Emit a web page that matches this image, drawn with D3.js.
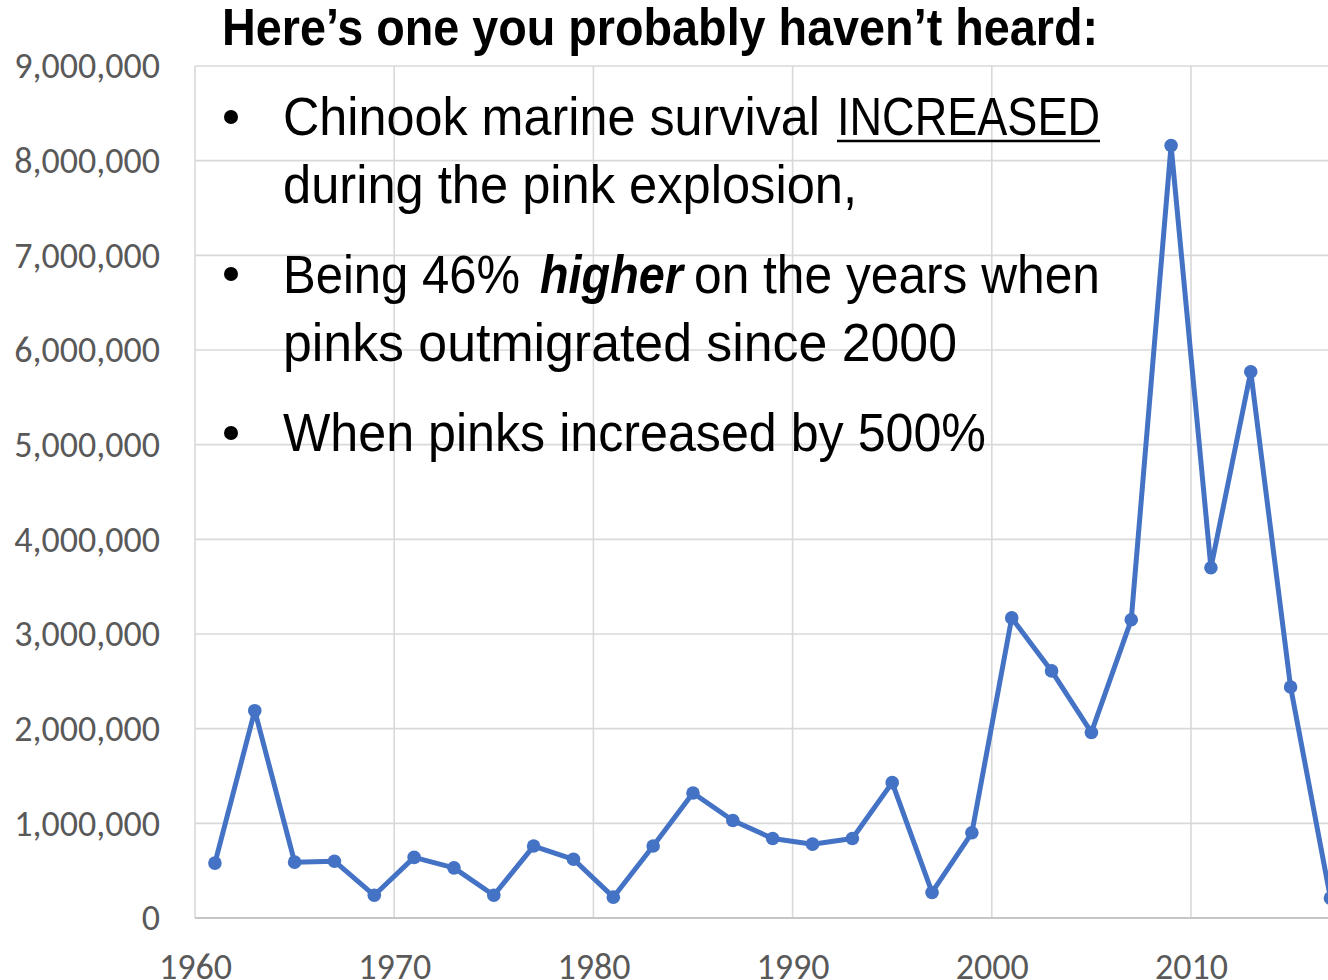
<!DOCTYPE html>
<html>
<head>
<meta charset="utf-8">
<script src="https://cdn.jsdelivr.net/npm/d3@7"></script>
<style>
  html, body { margin: 0; padding: 0; background: #fff; overflow: hidden; }
  svg { display: block; }
</style>
</head>
<body>
<div id="chart"></div>
<script>
// ---- data ----
const years = [1961,1963,1965,1967,1969,1971,1973,1975,1977,1979,1981,1983,1985,1987,1989,1991,1993,1995,1997,1999,2001,2003,2005,2007,2009,2011,2013,2015,2017];
const values = [580000,2190000,590000,600000,240000,640000,530000,240000,760000,620000,220000,760000,1320000,1030000,840000,780000,840000,1430000,270000,900000,3170000,2610000,1960000,3150000,8160000,3700000,5770000,2440000,210000];
const yTicks = [0,1000000,2000000,3000000,4000000,5000000,6000000,7000000,8000000,9000000];
const xTicks = [1960,1970,1980,1990,2000,2010,2020];
const title = "Here\u2019s one you probably haven\u2019t heard:";

const W = 1328, H = 980;
const svg = d3.select("#chart").append("svg").attr("width", W).attr("height", H);

const x = d3.scaleLinear().domain([1960, 2020]).range([195, 195 + 60 * 19.92]);
const y = d3.scaleLinear().domain([0, 9000000]).range([918, 66]);

// gridlines
const grid = svg.append("g");
grid.selectAll("line.h").data(yTicks.slice(1)).join("line")
  .attr("x1", x(1960)).attr("x2", W + 10)
  .attr("y1", d => y(d)).attr("y2", d => y(d))
  .attr("stroke", "#d9d9d9").attr("stroke-width", 1.6);
grid.selectAll("line.v").data(xTicks).join("line")
  .attr("x1", d => x(d)).attr("x2", d => x(d))
  .attr("y1", y(9000000)).attr("y2", y(0))
  .attr("stroke", "#d9d9d9").attr("stroke-width", 1.6);
// bottom axis line
svg.append("line").attr("x1", x(1960)).attr("x2", W + 10)
  .attr("y1", y(0)).attr("y2", y(0)).attr("stroke", "#c6c6c6").attr("stroke-width", 2);

// axes via d3 axis
const AF = "Carlito, 'Liberation Sans', sans-serif";
const fmt = d3.format(",");
const yAxis = svg.append("g").attr("transform", "translate(172,0)")
  .call(d3.axisLeft(y).tickValues(yTicks).tickFormat(fmt).tickSize(0).tickPadding(12));
yAxis.select(".domain").remove();
yAxis.selectAll("text").attr("font-family", AF)
  .attr("font-size", 36).attr("fill", "#595959").attr("dy", "0.33em");

const xAxis = svg.append("g").attr("transform", "translate(0,918)")
  .call(d3.axisBottom(x).tickValues(xTicks).tickFormat(d3.format("d")).tickSize(0).tickPadding(0));
xAxis.select(".domain").remove();
xAxis.selectAll("text").attr("font-family", AF)
  .attr("font-size", 36).attr("fill", "#595959").attr("dy", null).attr("y", 61);

// line + markers
const data = years.map((yr, i) => ({ yr, v: values[i] }));
const line = d3.line().x(d => x(d.yr)).y(d => y(d.v));
svg.append("path").datum(data).attr("d", line)
  .attr("fill", "none").attr("stroke", "#4472C4").attr("stroke-width", 5)
  .attr("stroke-linejoin", "round");
svg.selectAll("circle.pt").data(data).join("circle")
  .attr("cx", d => x(d.yr)).attr("cy", d => y(d.v)).attr("r", 6.8)
  .attr("fill", "#4472C4");

// overlay text
const TF = "'Liberation Sans', Arial, sans-serif";
function txt(str, xx, yy, len, opts = {}) {
  const t = svg.append("text").attr("x", xx).attr("y", yy)
    .attr("font-family", TF).attr("font-size", opts.size || 53)
    .attr("font-weight", opts.bold ? "bold" : "normal")
    .attr("font-style", opts.italic ? "italic" : "normal")
    .attr("fill", "#000").text(str);
  if (len) t.attr("textLength", len).attr("lengthAdjust", "spacingAndGlyphs");
  return t;
}
txt(title, 222, 45, 876, { bold: true, size: 52 });

const bullets = [117, 274, 433];
svg.selectAll("circle.bul").data(bullets).join("circle")
  .attr("cx", 231).attr("cy", d => d).attr("r", 7).attr("fill", "#000");

txt("Chinook marine survival", 283, 135, 537);
txt("INCREASED", 837, 135, 263);
svg.append("line").attr("x1", 837).attr("x2", 1100).attr("y1", 141).attr("y2", 141)
  .attr("stroke", "#000").attr("stroke-width", 2.5);
txt("during the pink explosion,", 283, 203, 574);
txt("Being 46%", 283, 293, 237);
txt("higher", 540, 293, 143, { bold: true, italic: true });
txt("on the years when", 694, 293, 406);
txt("pinks outmigrated since 2000", 283, 361, 674);
txt("When pinks increased by 500%", 283, 451, 703);
</script>
</body>
</html>
